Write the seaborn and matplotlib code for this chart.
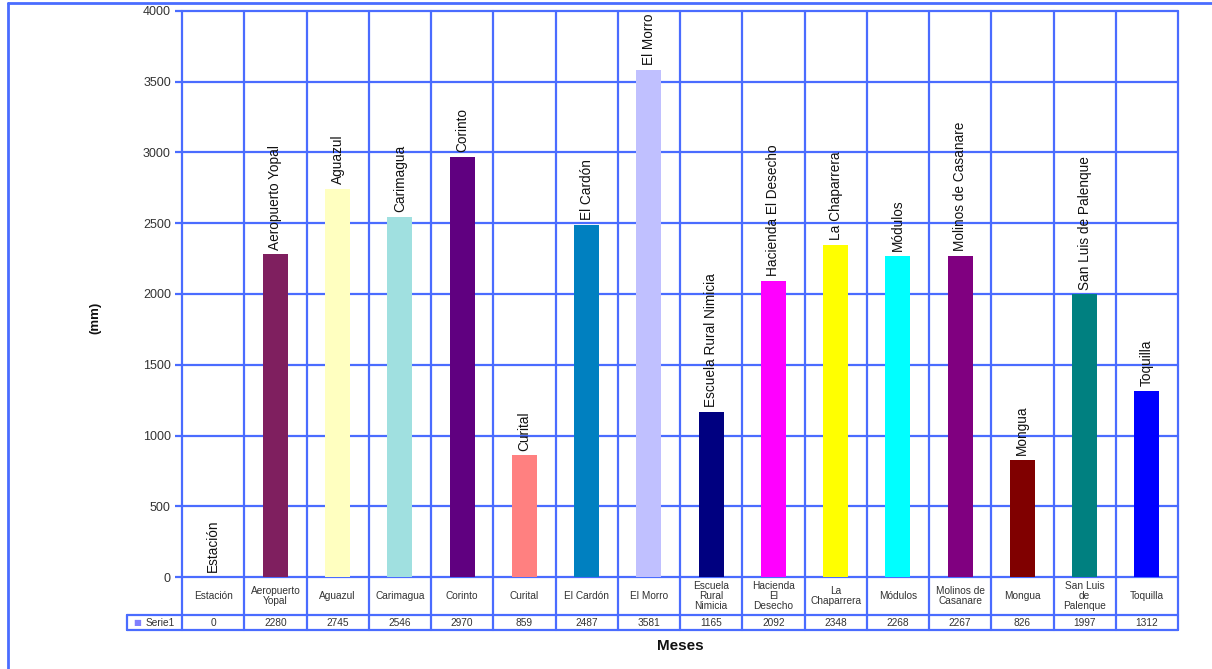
import matplotlib
matplotlib.use("Agg")
import matplotlib.pyplot as plt
from matplotlib.lines import Line2D
import seaborn as sns
import pandas as pd

# Annual precipitation per station (mm)
estaciones = ["Estación", "Aeropuerto Yopal", "Aguazul", "Carimagua", "Corinto",
              "Curital", "El Cardón", "El Morro", "Escuela Rural Nimicia",
              "Hacienda El Desecho", "La Chaparrera", "Módulos",
              "Molinos de Casanare", "Mongua", "San Luis de Palenque", "Toquilla"]
tabla_etiquetas = ["Estación", "Aeropuerto\nYopal", "Aguazul", "Carimagua", "Corinto",
                   "Curital", "El Cardón", "El Morro", "Escuela\nRural\nNimicia",
                   "Hacienda\nEl\nDesecho", "La\nChaparrera", "Módulos",
                   "Molinos de\nCasanare", "Mongua", "San Luis\nde\nPalenque", "Toquilla"]
precipitacion = [0, 2280, 2745, 2546, 2970, 859, 2487, 3581, 1165,
                 2092, 2348, 2268, 2267, 826, 1997, 1312]
colores = ["#9999ff", "#7f1f5f", "#ffffc0", "#a0e0e0", "#600080", "#ff8080",
           "#0080c0", "#c0c0ff", "#000080", "#ff00ff", "#ffff00", "#00ffff",
           "#800080", "#800000", "#008080", "#0000ff"]
y_ticks = [0, 500, 1000, 1500, 2000, 2500, 3000, 3500, 4000]
serie = "Serie1"

sns.set_theme(style="white")
plt.rcParams["font.family"] = ["Liberation Sans", "DejaVu Sans"]

grid_c = "#4a6cff"
W, H = 1212, 669
fig = plt.figure(figsize=(W / 100, H / 100), dpi=100)
ax = fig.add_axes([182 / W, 1 - 577 / H, 996 / W, 566 / H])

df = pd.DataFrame({"estacion": estaciones, "mm": precipitacion})
sns.barplot(data=df, x="estacion", y="mm", hue="estacion", palette=colores,
            width=0.4, legend=False, ax=ax, saturation=1, edgecolor="none")

ax.set_xlim(-0.5, len(estaciones) - 0.5)
ax.set_ylim(0, 4000)
ax.set_yticks(y_ticks)
ax.set_yticklabels([str(t) for t in y_ticks], fontsize=9, color="#333333")
ax.tick_params(axis="y", length=5, width=1.6, color=grid_c, pad=3, left=True)
ax.set_xticks([])
ax.set_xlabel("")
ax.set_ylabel("")
for s in ax.spines.values():
    s.set_visible(False)

# grid: horizontal at each tick, vertical between stations
for t in y_ticks:
    ax.axhline(t, color=grid_c, lw=1.6, zorder=0.5, clip_on=False)
for i in range(len(estaciones) + 1):
    ax.axvline(i - 0.5, color=grid_c, lw=1.6, zorder=0.5, clip_on=False)

# station names above each bar
for i, (nombre, v) in enumerate(zip(estaciones, precipitacion)):
    ax.annotate(nombre, (i, v), xytext=(0, 3.5), textcoords="offset points",
                rotation=90, ha="center", va="bottom", fontsize=9.8,
                color="#111111")

# data table below the plot
tr = ax.get_xaxis_transform()
h_cat = 38 / 566
h_val = 15 / 566
y1, y2 = -h_cat, -h_cat - h_val
lab_left = -0.5 - 55 / 996 * len(estaciones)
for i in range(len(estaciones) + 1):
    ax.add_line(Line2D([i - 0.5, i - 0.5], [0, y2], transform=tr, color=grid_c,
                       lw=1.6, clip_on=False))
for yy in (y1, y2):
    ax.add_line(Line2D([lab_left, len(estaciones) - 0.5], [yy, yy], transform=tr,
                       color=grid_c, lw=1.6, clip_on=False))
ax.add_line(Line2D([lab_left, lab_left], [y1, y2], transform=tr, color=grid_c,
                   lw=1.6, clip_on=False))
for i, (lab, v) in enumerate(zip(tabla_etiquetas, precipitacion)):
    ax.text(i, y1 / 2, lab, transform=tr, ha="center", va="center", fontsize=7.3,
            color="#333333", linespacing=0.98)
    ax.text(i, (y1 + y2) / 2, str(v), transform=tr, ha="center", va="center",
            fontsize=7.3, color="#333333")
ax.text(lab_left + 0.1, (y1 + y2) / 2, "■", transform=tr, ha="left", va="center",
        fontsize=6, color="#8080ff", family="DejaVu Sans")
ax.text(lab_left + 0.3, (y1 + y2) / 2, serie, transform=tr, ha="left", va="center",
        fontsize=7.3, color="#333333")

# axis titles
fig.text(95 / W, 1 - 318 / H, "(mm)", rotation=90, ha="center", va="center",
         fontsize=9.5, fontweight="bold", color="#111111")
fig.text(680 / W, 1 - 646 / H, "Meses", ha="center", va="center",
         fontsize=11, fontweight="bold", color="#111111")

# outer frame
fig.add_artist(Line2D([8 / W, 8 / W], [0, 1 - 3 / H], transform=fig.transFigure,
                      color=grid_c, lw=2))
fig.add_artist(Line2D([8 / W, 1], [1 - 3 / H, 1 - 3 / H], transform=fig.transFigure,
                      color=grid_c, lw=2))

fig.savefig("out.png", dpi=100)
